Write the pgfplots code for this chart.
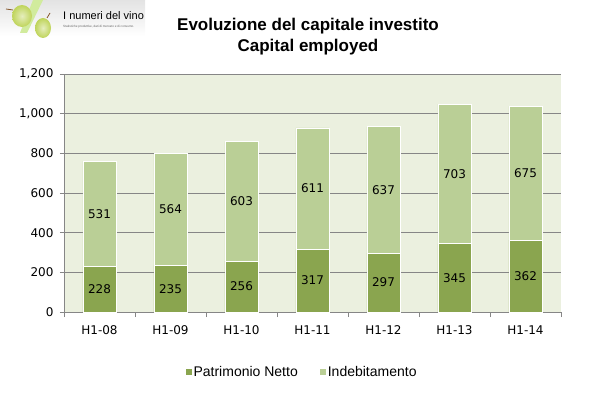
\documentclass[border=0pt]{standalone}
\usepackage{pgfplots}
\pgfplotsset{compat=1.18}
\usepackage{pgfplotstable}
\usepackage{fontspec}
\setmainfont{Liberation Sans}
\newfontfamily\dejavu{DejaVu Sans}
\definecolor{darkg}{HTML}{8AA54F}
\definecolor{lightg}{HTML}{BACF96}
\definecolor{bgc}{HTML}{EBF0DF}
\definecolor{gridc}{HTML}{868686}
\definecolor{grape}{HTML}{BFD45A}
\pgfplotstableread{
x a b
0 228 531
1 235 564
2 256 603
3 317 611
4 297 637
5 345 703
6 362 675
}\capdata
\pgfplotsset{sqlegend/.style={legend image code/.code={\fill[##1,draw=none] (0pt,-3pt) rectangle (6pt,3pt);}}}
\begin{document}
\begin{tikzpicture}
\path[use as bounding box] (0pt,0pt) rectangle (597pt,394pt);
% logo
\shade[top color=gray!22, bottom color=white] (0pt,394pt) rectangle (145pt,358pt);
\fill[yellow!55!green!40] (33pt,394pt) -- (43pt,394pt) -- (27pt,361pt) -- (20pt,361pt) -- cycle;
\shade[inner color=grape!40!white, outer color=grape] (22pt,378pt) ellipse (10pt and 11pt);
\shade[inner color=grape!40!white, outer color=grape] (43pt,366pt) ellipse (8pt and 10pt);
\draw[brown!70!black, line width=0.8pt] (13pt,384pt) -- (6pt,385pt);
\draw[brown!70!black, line width=0.8pt] (47pt,376pt) -- (50pt,381pt);
\node[anchor=base west, inner sep=0pt, font=\fontsize{11}{12}\selectfont] at (63pt,374pt) {I numeri del vino};
\node[anchor=base west, inner sep=0pt, font=\fontsize{3.1}{4}\selectfont, text=gray!80!black] at (63pt,366pt) {Statistiche produttive, dati di mercato e di consumo.};
% title
\node[anchor=base, inner sep=0pt, font=\bfseries\fontsize{17}{20}\selectfont] at (308pt,363pt) {Evoluzione del capitale investito};
\node[anchor=base, inner sep=0pt, font=\bfseries\fontsize{17}{20}\selectfont] at (308pt,342pt) {Capital employed};
\begin{axis}[
  at={(64pt,82pt)}, anchor=south west,
  scale only axis, width=497pt, height=238pt,
  ybar stacked, bar width=33pt,
  xmin=-0.5, xmax=6.5, ymin=0, ymax=1200,
  enlarge x limits=false,
  axis background/.style={fill=bgc},
  axis x line*=bottom, axis y line*=left,
  axis line style={gridc, line width=0.8pt},
  xtick={0,...,6},
  xticklabels={H1-08,H1-09,H1-10,H1-11,H1-12,H1-13,H1-14},
  minor xtick={-0.5,0.5,...,6.5},
  ytick={0,200,...,1200},
  tick align=outside,
  major tick length=4pt, minor tick length=5pt,
  major x tick style={draw=none},
  minor x tick style={gridc, line width=0.8pt},
  y tick style={gridc, line width=0.8pt},
  ymajorgrids, grid style={gridc, line width=0.8pt},
  /pgf/number format/assume math mode=true,
  /pgf/number format/1000 sep={,},
  tick label style={font=\dejavu\fontsize{12}{14}\selectfont},
  yticklabel style={xshift=-3pt},
  xticklabel style={yshift=-6pt},
  every axis plot post/.append style={sqlegend},
  legend style={at={(0.479,-0.252)}, anchor=center, draw=none, fill=none,
    legend columns=2, font=\fontsize{14}{16}\selectfont,
    /tikz/every even column/.append style={column sep=20pt}},
  nodes near coords,
  every node near coord/.style={anchor=center, font=\dejavu\fontsize{12}{14}\selectfont, text=black},
  clip=false,
]
\addplot[fill=darkg, draw=white, line width=0.8pt, point meta=explicit]
  table[x=x, y=a, meta=a]{\capdata};
\addplot[fill=lightg, draw=white, line width=0.8pt, point meta=explicit]
  table[x=x, y=b, meta=b]{\capdata};
\legend{Patrimonio Netto, Indebitamento}
\end{axis}
\end{tikzpicture}
\end{document}
